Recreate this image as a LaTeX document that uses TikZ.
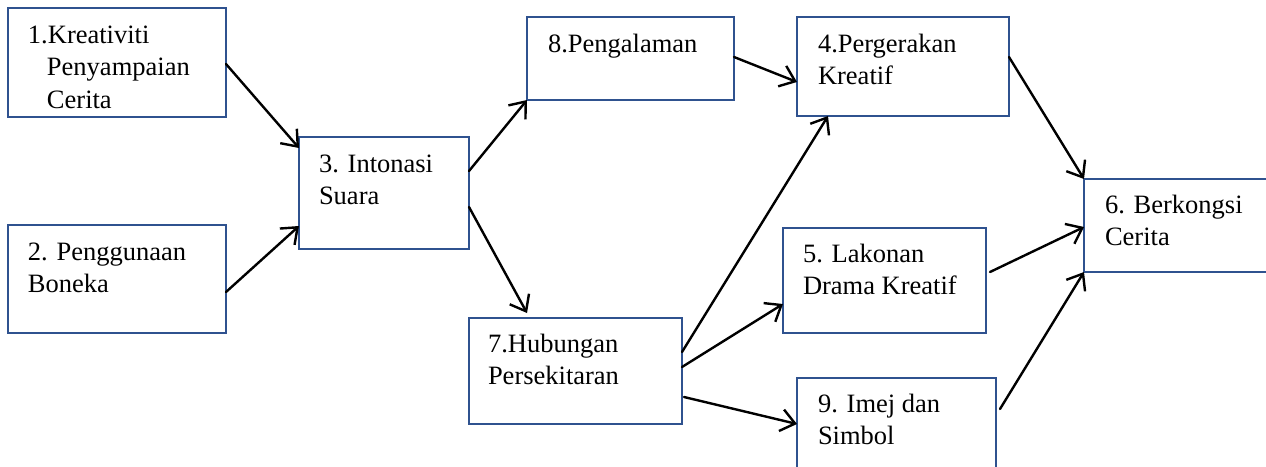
\documentclass[tikz,border=0pt]{standalone}
\usepackage{fontspec}
\setmainfont{Liberation Serif}
\newfontfamily\tnr{Liberation Serif}
\usetikzlibrary{arrows.meta}
\definecolor{boxblue}{HTML}{2F528F}
\newcommand\bxtext[5]{\parbox[t][#2][t]{#1}{\tnr\fontsize{26.5pt}{32.5pt}\selectfont\raggedright\leftskip=#3\relax\rule{0pt}{#4}#5}}
\begin{document}
\begin{tikzpicture}[x=1pt,y=-1pt,
  box/.style={draw=boxblue, line width=1.1pt, inner sep=0pt, outer sep=0pt, anchor=north west, fill=white, font=\tnr},
  arr/.style={draw=black, line width=2.4pt, line cap=round, -{Straight Barb[length=14pt,width=22pt,line width=2.4pt]}}]
\clip (0,0) rectangle (1266,466);
\fill[white] (0,0) rectangle (1266,466);
% boxes
\node[box] (b1) at (8,8) {\bxtext{218pt}{109pt}{20pt}{35pt}{1.Kreativiti\\\hspace*{19pt}Penyampaian\\\hspace*{19pt}Cerita}};
\node[box] (b2) at (8,225) {\bxtext{218pt}{108pt}{20pt}{35pt}{2. Penggunaan\\Boneka}};
\node[box] (b3) at (299,137) {\bxtext{170pt}{112pt}{20pt}{35pt}{3. Intonasi\\Suara}};
\node[box] (b8) at (527,17) {\bxtext{207pt}{83pt}{21pt}{35pt}{8.Pengalaman}};
\node[box] (b4) at (797,17) {\bxtext{212pt}{99pt}{21pt}{35pt}{4.Pergerakan\\Kreatif}};
\node[box] (b7) at (469,318) {\bxtext{213pt}{106pt}{19pt}{34pt}{7.Hubungan\\Persekitaran}};
\node[box] (b5) at (783,228) {\bxtext{203pt}{105pt}{20pt}{34pt}{5. Lakonan\\Drama Kreatif}};
\node[box] (b9) at (797,378) {\bxtext{199pt}{102pt}{21pt}{34pt}{9. Imej dan\\Simbol}};
\node[box] (b6) at (1084,179) {\bxtext{186pt}{93pt}{21pt}{34pt}{6. Berkongsi\\Cerita}};
% connectors
\draw[arr] ([yshift=-56pt]b1.north east) -- ([yshift=-11pt]b3.north west);
\draw[arr] ([yshift=-67pt]b2.north east) -- ([yshift=-89pt]b3.north west);
\draw[arr] ([yshift=-34pt]b3.north east) -- (b8.south west);
\draw[arr] ([yshift=-70pt]b3.north east) -- ([xshift=58pt,yshift=5pt]b7.north west);
\draw[arr] ([yshift=-40pt]b8.north east) -- ([yshift=-65pt]b4.north west);
\draw[arr] ([yshift=-34pt]b7.north east) -- ([xshift=31pt]b4.south west);
\draw[arr] ([yshift=-49pt]b7.north east) -- ([yshift=-76pt]b5.north west);
\draw[arr] ([xshift=2pt,yshift=-79pt]b7.north east) -- ([yshift=-46pt]b9.north west);
\draw[arr] ([yshift=-40pt]b4.north east) -- (b6.north west);
\draw[arr] ([xshift=4pt,yshift=-44pt]b5.north east) -- ([yshift=-48pt]b6.north west);
\draw[arr] ([xshift=4pt,yshift=-31pt]b9.north east) -- (b6.south west);
\end{tikzpicture}
\end{document}
